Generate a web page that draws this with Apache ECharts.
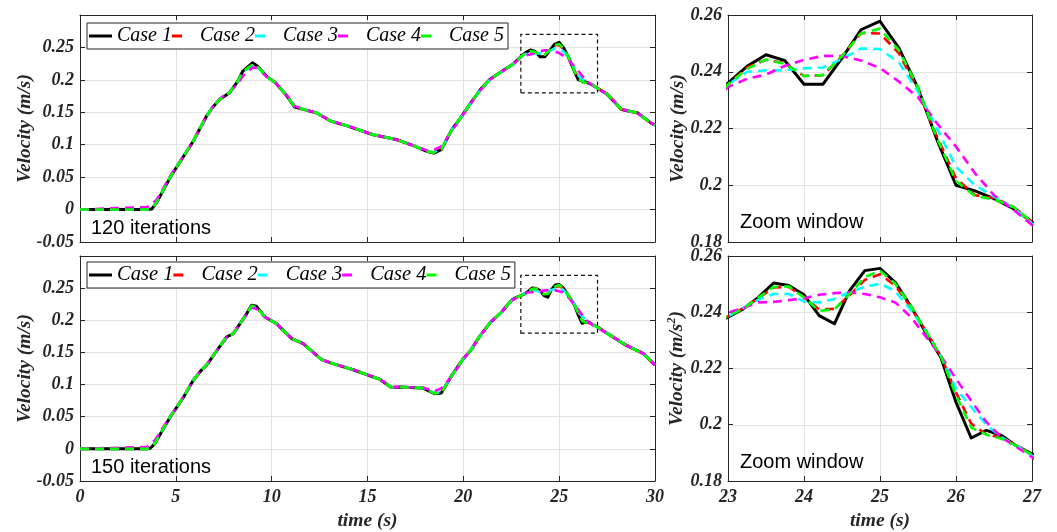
<!DOCTYPE html>
<html>
<head>
<meta charset="utf-8">
<script src="https://cdn.jsdelivr.net/npm/echarts@6/dist/echarts.min.js"></script>
<style>
  html, body { margin: 0; padding: 0; background: #fff; }
  #chart { width: 1057px; height: 532px; }
</style>
</head>
<body>
<div id="chart"></div>
<script>
// ---- data: velocity traces for five cases, two iteration counts ----
const caseNames = ['Case 1', 'Case 2', 'Case 3', 'Case 4', 'Case 5'];

// 120 iterations
const tTop = [0, 3.5, 3.75, 4.0, 4.75, 5.9, 6.6, 6.9, 7.3, 7.8, 8.2, 8.5, 9.0, 9.25, 9.75, 10.2, 10.8, 11.2, 11.8, 12.35,
  13.1, 13.9, 15.3, 16.5, 17.4, 18.1, 18.45, 18.85, 19.4, 19.8, 20.4, 20.9, 21.4, 21.8, 22.6,
  23.0, 23.25, 23.5, 23.75, 24.0, 24.25, 24.5, 24.75, 25.0, 25.25, 25.5, 25.75, 26.0, 26.25, 26.5, 26.75, 27.0,
  27.5, 28.25, 29.1, 29.8, 30];
const case1Top = [0, 0, 0.001, 0.011, 0.052, 0.105, 0.144, 0.157, 0.170, 0.180, 0.1965, 0.2136, 0.2262, 0.2215, 0.205, 0.1955, 0.175, 0.158, 0.1533, 0.149,
  0.1361, 0.1294, 0.1154, 0.108, 0.0985, 0.0897, 0.087, 0.0923, 0.1233, 0.139, 0.165, 0.1855, 0.2011, 0.2089, 0.2244,
  0.236, 0.2419, 0.246, 0.2439, 0.2356, 0.2356, 0.2448, 0.2548, 0.2578, 0.2483, 0.2342, 0.216, 0.200, 0.198, 0.1953, 0.1918, 0.1871,
  0.178, 0.1543, 0.149, 0.1333, 0.130];
const case2Top = [0, 0, 0.0015, 0.0115, 0.0525, 0.1052, 0.1442, 0.1572, 0.1702, 0.1805, 0.1965, 0.2125, 0.224, 0.221, 0.2048, 0.1955, 0.1752, 0.1585, 0.1535, 0.149,
  0.1362, 0.1295, 0.1155, 0.108, 0.0987, 0.0902, 0.088, 0.093, 0.1228, 0.1392, 0.1648, 0.1852, 0.201, 0.2088, 0.2242,
  0.2355, 0.2415, 0.2442, 0.243, 0.2385, 0.2388, 0.2455, 0.2536, 0.2535, 0.2465, 0.2335, 0.2172, 0.2024, 0.1965, 0.1955, 0.1925, 0.187,
  0.1785, 0.1545, 0.1488, 0.1335, 0.1302];
const case3Top = [0, 0, 0.002, 0.012, 0.053, 0.1052, 0.1442, 0.1572, 0.1705, 0.1808, 0.1962, 0.2118, 0.2225, 0.2195, 0.2045, 0.1955, 0.1755, 0.159, 0.1537, 0.149,
  0.1363, 0.1296, 0.1156, 0.108, 0.0988, 0.0905, 0.0885, 0.0935, 0.1225, 0.1392, 0.1645, 0.185, 0.2008, 0.2086, 0.224,
  0.2355, 0.2400, 0.2405, 0.2405, 0.2412, 0.2415, 0.2445, 0.2482, 0.248, 0.2432, 0.2330, 0.2200, 0.2065, 0.2000, 0.1960, 0.1922, 0.1865,
  0.1785, 0.1548, 0.1487, 0.1336, 0.1303];
const case4Top = [0, 0.004, 0.009, 0.015, 0.054, 0.1045, 0.1435, 0.1565, 0.171, 0.1815, 0.193, 0.206, 0.219, 0.2185, 0.2045, 0.1958, 0.1758, 0.1595, 0.154, 0.1488,
  0.1365, 0.1298, 0.1157, 0.1078, 0.0988, 0.091, 0.0915, 0.0975, 0.121, 0.1385, 0.164, 0.1845, 0.2005, 0.2085, 0.2235,
  0.2346, 0.2375, 0.2390, 0.2421, 0.2442, 0.2456, 0.2455, 0.2440, 0.2413, 0.2365, 0.2310, 0.2218, 0.2136, 0.2042, 0.1965, 0.1915, 0.186,
  0.179, 0.155, 0.1485, 0.1338, 0.1305];
const case5Top = [0, 0, 0.0015, 0.0115, 0.0525, 0.1052, 0.1441, 0.1571, 0.1702, 0.1803, 0.1965, 0.2128, 0.2235, 0.2208, 0.2048, 0.1955, 0.1752, 0.1585, 0.1535, 0.149,
  0.1362, 0.1295, 0.1155, 0.108, 0.0987, 0.09, 0.0878, 0.0928, 0.123, 0.1392, 0.1648, 0.1852, 0.201, 0.2088, 0.2242,
  0.2355, 0.2410, 0.2443, 0.2428, 0.2385, 0.2388, 0.2455, 0.2535, 0.2552, 0.2475, 0.2345, 0.2165, 0.2015, 0.1962, 0.1950, 0.1925, 0.187,
  0.1785, 0.1545, 0.1488, 0.1335, 0.1302];

// 150 iterations
const tBot = [0, 3.5, 3.65, 3.9, 4.7, 5.4, 5.9, 6.35, 6.6, 7.15, 7.65, 8.0, 8.35, 8.7, 8.95, 9.2, 9.65, 10.25, 11.05, 11.65,
  12.6, 13.2, 14.25, 15.65, 16.25, 16.7, 17.2, 17.9, 18.5, 18.85, 19.4, 20.0, 20.35, 20.85, 21.4, 22.0, 22.5, 22.8,
  23.0, 23.2, 23.4, 23.6, 23.8, 24.0, 24.2, 24.4, 24.6, 24.8, 25.0, 25.2, 25.4, 25.6, 25.8, 26.0, 26.2, 26.4, 26.6, 26.8, 27.0,
  27.8, 28.5, 29.4, 30];
const case1Bot = [0, 0, 0.0005, 0.0078, 0.0492, 0.0804, 0.1063, 0.123, 0.130, 0.1533, 0.174, 0.1792, 0.1948, 0.2104, 0.2234, 0.2218, 0.2052, 0.1948, 0.1714, 0.1636,
  0.1387, 0.1325, 0.1231, 0.108, 0.0955, 0.0961, 0.0955, 0.0945, 0.0857, 0.0868, 0.1143, 0.1403, 0.1517, 0.175, 0.1963, 0.2129, 0.231, 0.236,
  0.2382, 0.2412, 0.2453, 0.2504, 0.2495, 0.2462, 0.2388, 0.2359, 0.2477, 0.2548, 0.2556, 0.2506, 0.2424, 0.2329, 0.224, 0.208, 0.1953, 0.198, 0.1962, 0.1924, 0.1897,
  0.174, 0.161, 0.148, 0.130];
const case2Bot = [0, 0, 0.001, 0.0085, 0.0495, 0.0806, 0.1064, 0.1232, 0.1305, 0.1535, 0.1738, 0.1795, 0.1948, 0.2102, 0.2222, 0.2212, 0.2052, 0.1948, 0.1716, 0.1637,
  0.1388, 0.1326, 0.1232, 0.1082, 0.0958, 0.0962, 0.0956, 0.0946, 0.0865, 0.0875, 0.1138, 0.1402, 0.1518, 0.1748, 0.1962, 0.2128, 0.2308, 0.2358,
  0.2385, 0.2415, 0.245, 0.2488, 0.249, 0.2455, 0.241, 0.2412, 0.246, 0.2515, 0.2535, 0.2495, 0.242, 0.2335, 0.2245, 0.2115, 0.2004, 0.1965, 0.1955, 0.1925, 0.1895,
  0.1742, 0.1612, 0.1482, 0.1302];
const case3Bot = [0, 0, 0.0012, 0.009, 0.0498, 0.0807, 0.1065, 0.1233, 0.1306, 0.1536, 0.1735, 0.1797, 0.1946, 0.2098, 0.2205, 0.2205, 0.2053, 0.1949, 0.1717, 0.1638,
  0.1389, 0.1327, 0.1233, 0.1083, 0.0959, 0.0963, 0.0957, 0.0948, 0.087, 0.088, 0.1135, 0.1401, 0.1519, 0.1747, 0.1961, 0.2127, 0.2306, 0.2357,
  0.2385, 0.2415, 0.2445, 0.2465, 0.2465, 0.2438, 0.2435, 0.2447, 0.2472, 0.249, 0.2502, 0.2475, 0.241, 0.2335, 0.2245, 0.2128, 0.2063, 0.200, 0.1955, 0.1925, 0.189,
  0.1743, 0.1613, 0.1483, 0.1303];
const case4Bot = [0, 0.003, 0.007, 0.013, 0.0505, 0.0805, 0.106, 0.1228, 0.1308, 0.1532, 0.1732, 0.1798, 0.1942, 0.209, 0.2195, 0.218, 0.2055, 0.195, 0.1718, 0.1639,
  0.139, 0.1328, 0.1234, 0.1085, 0.096, 0.0964, 0.0958, 0.095, 0.090, 0.094, 0.1125, 0.1398, 0.152, 0.1745, 0.196, 0.2125, 0.2302, 0.2355,
  0.2398, 0.2415, 0.2435, 0.2437, 0.2443, 0.245, 0.2462, 0.2468, 0.2471, 0.2465, 0.2453, 0.2435, 0.2385, 0.2315, 0.2245, 0.2163, 0.2085, 0.201, 0.1955, 0.192, 0.1885,
  0.1745, 0.1615, 0.1485, 0.1305];
const case5Bot = [0, 0, 0.001, 0.0083, 0.0494, 0.0805, 0.1064, 0.1231, 0.1304, 0.1534, 0.1739, 0.1794, 0.1948, 0.2103, 0.2225, 0.2214, 0.2052, 0.1948, 0.1715, 0.1637,
  0.1388, 0.1326, 0.1232, 0.1081, 0.0957, 0.0962, 0.0956, 0.0946, 0.0862, 0.0872, 0.114, 0.1402, 0.1518, 0.1749, 0.1962, 0.2128, 0.2309, 0.2359,
  0.2385, 0.2413, 0.2452, 0.249, 0.2492, 0.2452, 0.2405, 0.241, 0.2465, 0.2525, 0.2548, 0.2502, 0.2425, 0.2335, 0.2245, 0.2105, 0.199, 0.1965, 0.195, 0.1925, 0.1893,
  0.1741, 0.1611, 0.1481, 0.1301];

// axis ranges and the zoomed region
const fullX = [0, 30, 5];
const fullY = [-0.05, 0.3, 0.05];
const zoomX = [23, 27, 1];
const zoomY = [0.18, 0.26, 0.02];
const zoomBoxY = [0.18, 0.27];
const panelTexts = ['120 iterations', '150 iterations', 'Zoom window', 'Zoom window'];

// ---- styling ----
const colors = ['#000000', '#ff0000', '#00ffff', '#ff00ff', '#00ff00'];
const serif = 'Liberation Serif';
const axisColor = '#262626';
const tickFont = { fontFamily: serif, fontWeight: 'bold', fontStyle: 'italic', fontSize: 18, color: axisColor };
const nameFont = { fontFamily: serif, fontWeight: 'bold', fontStyle: 'italic', fontSize: 19.5, color: axisColor };

// legend samples: a full bar for the solid line, a single short dash for dashed lines
const iconSolid = 'path://M0,0H0.01V14H0Z M0,5.5H23V8.5H0Z M22.99,0H23V14H22.99Z';
const iconDash = 'path://M0,0H0.01V14H0Z M0,5.6H10V8.4H0Z M22.99,0H23V14H22.99Z';

const grids = [
  { left: 80, top: 15, width: 575, height: 227 },
  { left: 80, top: 256, width: 575, height: 225 },
  { left: 728, top: 15, width: 304, height: 227 },
  { left: 728, top: 256, width: 304, height: 225 }
];

const xAxes = [], yAxes = [], series = [];
grids.forEach((g, gi) => {
  const isZoom = gi >= 2;
  const isBottom = gi % 2 === 1;
  const xr = isZoom ? zoomX : fullX;
  const yr = isZoom ? zoomY : fullY;
  const common = {
    gridIndex: gi, type: 'value',
    axisLine: { show: true, onZero: false, lineStyle: { color: axisColor, width: 1 } },
    axisTick: { show: true, inside: true, length: 5, lineStyle: { color: axisColor } }
  };
  // main x axis (bottom) with grid lines
  xAxes.push(Object.assign({}, common, {
    position: 'bottom', min: xr[0], max: xr[1], interval: xr[2],
    axisLabel: Object.assign({ show: isBottom, margin: 7 }, tickFont),
    splitLine: { show: true, lineStyle: { color: '#e3e3e3', width: 1 } },
    name: isBottom ? 'time (s)' : '', nameLocation: 'middle', nameGap: 30,
    nameMoveOverlap: false,
    nameTextStyle: nameFont
  }));
  // mirror x axis on top carrying only ticks
  xAxes.push(Object.assign({}, common, {
    position: 'top', min: xr[0], max: xr[1], interval: xr[2],
    axisLabel: { show: false }, splitLine: { show: false }
  }));
  const yName = (isZoom && isBottom) ? 'Velocity (m/s{sup|2})' : 'Velocity (m/s)';
  yAxes.push(Object.assign({}, common, {
    position: 'left', min: yr[0], max: yr[1], interval: yr[2],
    axisLabel: Object.assign({ show: true, margin: 6, showMaxLabel: isZoom }, tickFont),
    splitLine: { show: true, lineStyle: { color: '#e3e3e3', width: 1 } },
    name: yName, nameLocation: 'middle', nameGap: isZoom ? 40 : 45,
    nameMoveOverlap: false,
    nameTextStyle: Object.assign({}, nameFont, {
      rich: { sup: { fontFamily: serif, fontWeight: 'bold', fontStyle: 'italic', fontSize: 12, color: axisColor, verticalAlign: 'bottom', padding: [0, 0, 10, 0] } }
    })
  }));
  yAxes.push(Object.assign({}, common, {
    position: 'right', min: yr[0], max: yr[1], interval: yr[2],
    axisLabel: { show: false }, splitLine: { show: false }
  }));

  const times = isBottom ? tBot : tTop;
  const values = isBottom ? [case1Bot, case2Bot, case3Bot, case4Bot, case5Bot]
                          : [case1Top, case2Top, case3Top, case4Top, case5Top];
  values.forEach((vals, ci) => {
    const s = {
      name: caseNames[ci], type: 'line',
      xAxisIndex: gi * 2, yAxisIndex: gi * 2,
      data: times.map((t, i) => [t, vals[i]]),
      symbol: 'none', clip: true, animation: false,
      lineStyle: {
        color: colors[ci], width: ci === 0 ? 3 : 2.6,
        type: ci === 0 ? 'solid' : [9, 6], join: 'round', cap: 'butt'
      },
      itemStyle: { color: colors[ci] },
      z: 2 + ci
    };
    if (!isZoom && ci === 0) {
      s.markArea = {
        silent: true,
        itemStyle: { color: 'rgba(0,0,0,0)', borderColor: '#111', borderWidth: 1.2, borderType: [4, 3] },
        label: { show: false },
        data: [[{ coord: [zoomX[0], zoomBoxY[0]] }, { coord: [zoomX[1], zoomBoxY[1]] }]]
      };
    }
    series.push(s);
  });
});

const legendBase = {
  data: caseNames.map((n, i) => ({ name: n, icon: i === 0 ? iconSolid : iconDash })),
  left: 87, orient: 'horizontal',
  itemWidth: 23, itemHeight: 14, itemGap: 0,
  backgroundColor: '#fff', borderColor: axisColor, borderWidth: 1,
  padding: [3, 4, 3, 2], borderRadius: 0, selectedMode: false,
  textStyle: { fontFamily: serif, fontStyle: 'italic', fontSize: 20, color: '#000' }
};

const textPos = [[91, 218], [91, 457], [740, 212], [740, 452]];
const graphics = panelTexts.map((txt, i) => ({
  type: 'text', left: textPos[i][0], top: textPos[i][1], z: 10,
  style: { text: txt, font: '20px "Liberation Sans"', fill: '#000' }
}));

const chart = echarts.init(document.getElementById('chart'), null, { renderer: 'canvas', width: 1057, height: 532 });
chart.setOption({
  animation: false,
  backgroundColor: '#fff',
  grid: grids.map(g => Object.assign({ show: false, containLabel: false }, g)),
  xAxis: xAxes,
  yAxis: yAxes,
  legend: [
    Object.assign({}, legendBase, { top: 23 }),
    Object.assign({}, legendBase, { top: 262, textStyle: Object.assign({}, legendBase.textStyle, { fontSize: 20.5 }) })
  ],
  graphic: graphics,
  series: series
});
</script>
</body>
</html>
